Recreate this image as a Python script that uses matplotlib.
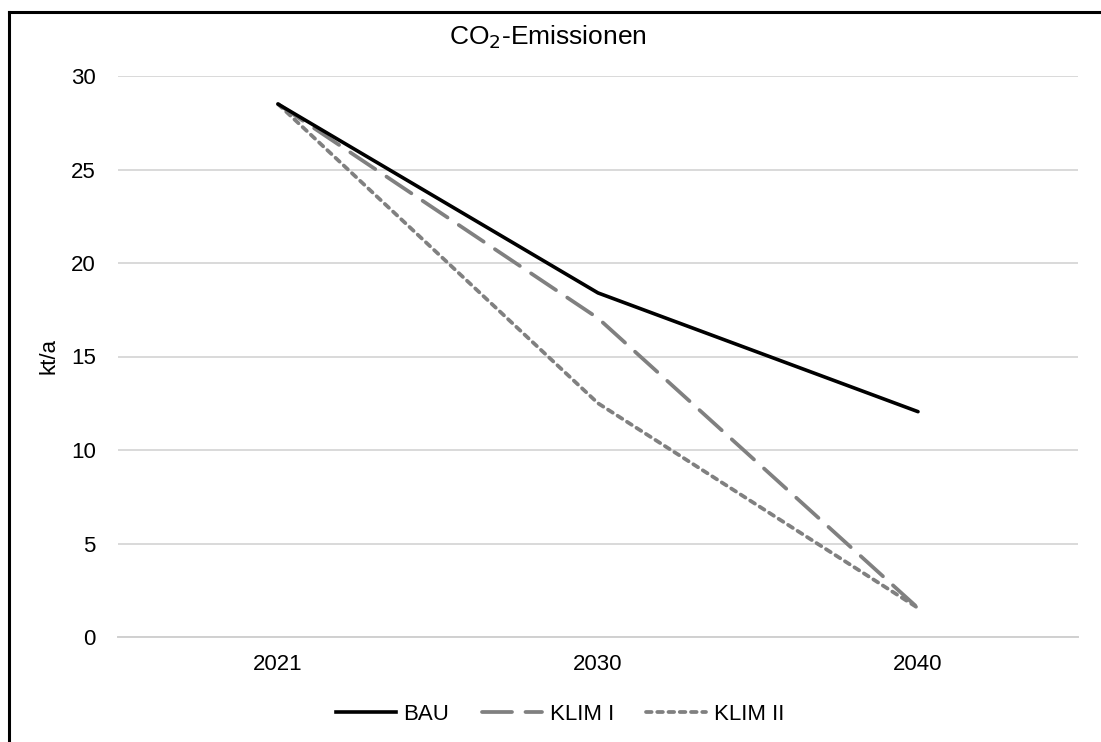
import numpy as np
import matplotlib.pyplot as plt
from matplotlib.lines import Line2D

plt.rcParams['font.family'] = ['Liberation Sans', 'DejaVu Sans']

years = ['2021', '2030', '2040']
bau = [28.5, 18.4, 12.05]
klim1 = [28.5, 17.05, 1.55]
klim2 = [28.5, 12.5, 1.55]

fig = plt.figure(figsize=(11.01, 7.42), dpi=100)
W, H = 1101, 742
ax = fig.add_axes([118 / W, 1 - 637 / H, (1078 - 118) / W, (637 - 76) / H])

x = np.arange(len(years))
ax.plot(x, bau, color='black', lw=2.6, solid_capstyle='round', label='BAU', zorder=4)
ax.plot(x, klim1, color='#808080', lw=2.7, dashes=(8, 3.6), dash_capstyle='round',
        label='KLIM I', zorder=3)
ax.plot(x, klim2, color='#808080', lw=2.7, dashes=(1.5, 1.5), dash_capstyle='round',
        label='KLIM II', zorder=3)

ax.set_xlim(-0.5, 2.5)
ax.set_ylim(0, 30)
ax.set_yticks(range(0, 31, 5))
ax.set_xticks(x)
ax.set_xticklabels(years)
ax.tick_params(axis='both', length=0, labelsize=16, labelcolor='black')
ax.tick_params(axis='y', pad=16)
ax.tick_params(axis='x', pad=12)
ax.grid(axis='y', color='#d9d9d9', lw=1.4)
ax.set_axisbelow(True)
for s in ['top', 'right', 'left']:
    ax.spines[s].set_visible(False)
ax.spines['bottom'].set_color('#d0d0d0')
ax.spines['bottom'].set_linewidth(1.4)

ax.set_ylabel('kt/a', fontsize=16)
ax.yaxis.set_label_coords(-58 / 960, 0.5)
fig.text(548 / W, 1 - 37 / H, 'CO$_2$-Emissionen', ha='center', va='center', fontsize=19)

handles = [
    Line2D([], [], color='black', lw=2.6),
    Line2D([], [], color='#808080', lw=2.7, dashes=(8, 3.6), dash_capstyle='round'),
    Line2D([], [], color='#808080', lw=2.7, dashes=(1.5, 1.5), dash_capstyle='round'),
]
fig.legend(handles, ['BAU', 'KLIM I', 'KLIM II'], loc='center', ncol=3,
           bbox_to_anchor=(560 / W, 1 - 714 / H), frameon=False, fontsize=16,
           handlelength=2.7, handletextpad=0.36, columnspacing=1.45)

# border of the chart area (only top and left visible)
fig.add_artist(Line2D([9 / W, 9 / W], [0, 1 - 12 / H], color='black', lw=2.2,
                      transform=fig.transFigure))
fig.add_artist(Line2D([9 / W, 1], [1 - 12 / H, 1 - 12 / H], color='black', lw=2.2,
                      transform=fig.transFigure))

fig.savefig('out.png', dpi=100)
